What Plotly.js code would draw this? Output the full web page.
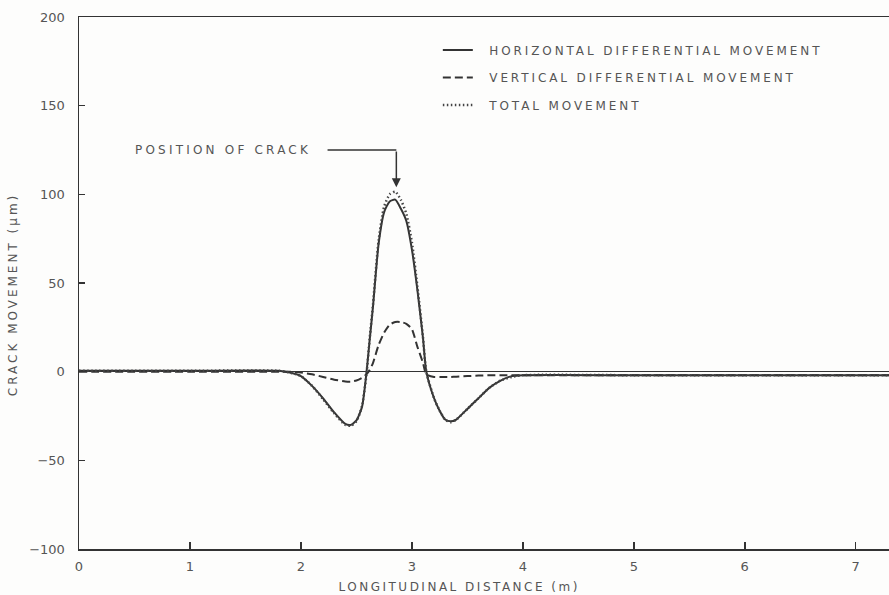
<!DOCTYPE html>
<html>
<head>
<meta charset="utf-8">
<script src="https://cdn.plot.ly/plotly-3.0.1.min.js"></script>
<style>html,body{margin:0;padding:0;background:#fdfdfc;}</style>
</head>
<body>
<div id="chart" style="width:889px;height:595px;"></div>
<script>
// Longitudinal distance (m)
const distance = [0, 1.0, 1.8, 1.9, 2.0, 2.1, 2.2, 2.3, 2.4, 2.45, 2.5, 2.55, 2.59, 2.62, 2.65, 2.7, 2.75, 2.8, 2.85, 2.9, 2.95, 3.0, 3.05, 3.1, 3.13, 3.2, 3.25, 3.3, 3.35, 3.4, 3.5, 3.6, 3.7, 3.8, 3.9, 4.0, 5.0, 6.0, 7.3];
// Horizontal differential movement (µm)
const horizontal = [0.5, 0.5, 0.5, -0.5, -2.5, -8, -15, -23, -29.5, -30, -27.5, -20, -1, 18, 37, 72, 90, 96, 97, 92, 85, 69, 46, 19, 0, -15, -22, -27, -28, -27, -21, -15, -9, -5, -2.5, -2, -2, -2, -2];
// Vertical differential movement (µm)
const vertical = [0, 0, 0, 0, -0.5, -1.5, -3, -4.5, -5.5, -5.6, -5, -3.5, -1.5, 1, 5, 15, 22, 26.5, 28, 28, 27, 24, 14, 5, -1.5, -3, -3, -3, -3, -2.8, -2.5, -2.2, -2, -2, -2, -2, -2, -2, -2];
// Total movement (µm)
const total = [0.5, 0.5, 0.5, -0.5, -2.5, -8, -15.5, -23.5, -30, -30.5, -28, -19.5, -2, 19, 38, 74, 93, 100, 101.5, 97, 89, 73, 48, 19.5, 0, -15, -22, -27, -28.5, -27, -21, -15, -9, -5, -3, -2, -2, -2, -2];

const seriesNames = ['HORIZONTAL DIFFERENTIAL MOVEMENT', 'VERTICAL DIFFERENTIAL MOVEMENT', 'TOTAL MOVEMENT'];
const xTickVals = [0, 1, 2, 3, 4, 5, 6, 7];
const yTickVals = [-100, -50, 0, 50, 100, 150, 200];
const crackLabel = 'POSITION OF CRACK';
const crackX = 2.86, crackTipY = 104, crackLineY = 125, crackTextX = 1.30, crackLineStartX = 2.24;

const ink = '#333333';
const textCol = '#555555';
const ls = (t, s) => '<span style="letter-spacing:' + s + 'px">' + t + '</span>';
const pad = '&nbsp;&nbsp;&nbsp;';

const traces = [
  {x: distance, y: horizontal, name: pad + ls(seriesNames[0], 2.9), mode: 'lines', legendgroup: 'a',
   line: {color: ink, width: 2, shape: 'spline', smoothing: 0.6}},
  {x: distance, y: vertical, name: pad + ls(seriesNames[1], 2.9), mode: 'lines', legendgroup: 'b',
   line: {color: ink, width: 2, dash: '8px,4px', shape: 'spline', smoothing: 0.6}},
  {x: distance, y: total, name: pad + ls(seriesNames[2], 2.9), mode: 'lines', legendgroup: 'c',
   line: {color: '#444', width: 2.5, dash: '1.5px,2.5px', shape: 'spline', smoothing: 0.6}}
];

const layout = {
  width: 889, height: 595,
  margin: {l: 79, r: 0, t: 17, b: 46},
  paper_bgcolor: '#fdfdfc', plot_bgcolor: '#fdfdfc',
  font: {family: 'DejaVu Sans, sans-serif', size: 12, color: textCol},
  showlegend: true,
  legend: {x: 0.443, xanchor: 'left', y: 0.965, yanchor: 'top', bgcolor: 'rgba(0,0,0,0)',
           traceorder: 'grouped', tracegroupgap: 8.5, font: {size: 12, color: textCol}},
  xaxis: {range: [0, 7.3], tickvals: xTickVals, ticks: 'inside', ticklen: 7, tickcolor: ink, tickwidth: 1.5,
          showline: true, linecolor: ink, linewidth: 1.5, mirror: true, showgrid: false, zeroline: false,
          ticklabelstandoff: 5,
          tickfont: {size: 13, color: textCol},
          title: {text: ls('LONGITUDINAL DISTANCE (m)', 2.5) + '&nbsp;&nbsp;&nbsp;&nbsp;&nbsp;&nbsp;&nbsp;&nbsp;&nbsp;&nbsp;&nbsp;&nbsp;&nbsp;', standoff: 9, font: {size: 12, color: textCol}}},
  yaxis: {range: [-100, 200], tickvals: yTickVals, ticks: 'inside', ticklen: 6, tickcolor: ink, tickwidth: 1.5,
          showline: true, linecolor: ink, linewidth: 1.5, mirror: false, showgrid: false,
          zeroline: true, zerolinecolor: ink, zerolinewidth: 1.5,
          ticklabelstandoff: 10,
          tickfont: {size: 13, color: textCol},
          title: {text: ls('CRACK MOVEMENT (µm)', 3) + '&nbsp;&nbsp;&nbsp;&nbsp;&nbsp;&nbsp;', standoff: 9, font: {size: 12, color: textCol}}},
  shapes: [
    {type: 'line', xref: 'x', yref: 'y', x0: crackLineStartX, x1: crackX, y0: crackLineY, y1: crackLineY,
     line: {color: ink, width: 1.5}}
  ],
  annotations: [
    {x: crackTextX, y: crackLineY, xref: 'x', yref: 'y', text: ls(crackLabel, 3.2), showarrow: false,
     font: {size: 12, color: textCol}},
    {x: crackX, y: crackTipY, xref: 'x', yref: 'y', ax: crackX, ay: crackLineY, axref: 'x', ayref: 'y',
     text: '', showarrow: true, arrowhead: 2, arrowsize: 1.2, arrowwidth: 1.5, arrowcolor: ink}
  ]
};

Plotly.newPlot('chart', traces, layout, {displayModeBar: false, staticPlot: true});
</script>
</body>
</html>
